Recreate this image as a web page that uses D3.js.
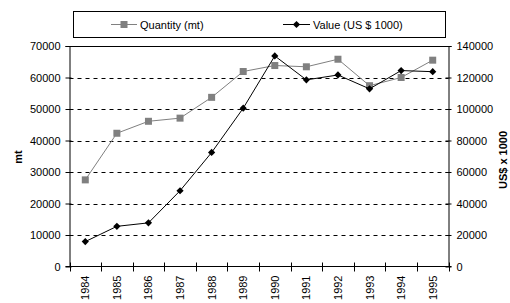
<!DOCTYPE html>
<html>
  <head>
    <meta charset="utf-8">
    <style>
      body { margin: 0; background: #fff; }
      text { font-family: "Liberation Sans", Arial, sans-serif; font-size: 11px; fill: #000; }
      .grid line { stroke: #000; stroke-dasharray: 4,4; }
    </style>
  </head>
  <body>
    <svg width="510" height="303"></svg>
    <script src="https://d3js.org/d3.v7.min.js"></script>
    <script>
      var years = ["1984", "1985", "1986", "1987", "1988", "1989", "1990", "1991", "1992", "1993", "1994", "1995"];
      var quantity = [27500, 42300, 46100, 47100, 53700, 61900, 63800, 63400, 65800, 57400, 60000, 65500];
      var value = [15800, 25500, 27700, 48100, 72400, 100500, 133700, 118500, 121600, 112800, 124400, 123700];
      var leftTicks = [0, 10000, 20000, 30000, 40000, 50000, 60000, 70000];
      var rightTicks = [0, 20000, 40000, 60000, 80000, 100000, 120000, 140000];

      var svg = d3.select("svg");
      var pLeft = 69.5, pRight = 448.5, pTop = 46, pBottom = 266.5;

      var x = d3.scaleBand().domain(years).range([pLeft, pRight]);
      var yL = d3.scaleLinear().domain([0, 70000]).range([pBottom, pTop]);
      var yR = d3.scaleLinear().domain([0, 140000]).range([pBottom, pTop]);

      // dashed gridlines
      svg.append("g").attr("class", "grid")
        .selectAll("line")
        .data(leftTicks.filter(function(d) { return d > 0 && d < 70000; }))
        .enter().append("line")
        .attr("x1", pLeft).attr("x2", pRight)
        .attr("y1", function(d) { return Math.round(yL(d)) + 0.5; })
        .attr("y2", function(d) { return Math.round(yL(d)) + 0.5; });

      // top border line
      svg.append("line")
        .attr("x1", pLeft - 4).attr("x2", pRight + 3)
        .attr("y1", yL(70000) + 0.5).attr("y2", yL(70000) + 0.5)
        .attr("stroke", "#000");

      // left axis
      var gl = svg.append("g").attr("transform", "translate(" + pLeft + ",0)")
        .call(d3.axisLeft(yL).tickValues(leftTicks).tickFormat(d3.format("d")).tickSize(4).tickPadding(5).tickSizeOuter(0));
      gl.selectAll(".tick line").attr("x2", -4).attr("x1", 2);

      // right axis
      var gr = svg.append("g").attr("transform", "translate(" + pRight + ",0)")
        .call(d3.axisRight(yR).tickValues(rightTicks).tickFormat(d3.format("d")).tickSize(3).tickPadding(5).tickSizeOuter(0));
      gr.selectAll(".tick line").attr("x1", -3).attr("x2", 3);

      // bottom axis with ticks at band boundaries
      var gb = svg.append("g").attr("transform", "translate(0," + pBottom + ")");
      gb.append("line").attr("x1", pLeft - 4).attr("x2", pRight + 3).attr("stroke", "#000");
      var bounds = years.map(function(d) { return x(d); }).concat([pRight]);
      gb.selectAll(".bt").data(bounds).enter().append("line")
        .attr("x1", function(d) { return Math.round(d) + 0.5; })
        .attr("x2", function(d) { return Math.round(d) + 0.5; })
        .attr("y1", -4).attr("y2", 5).attr("stroke", "#000");
      gb.selectAll(".yl").data(years).enter().append("text")
        .attr("transform", function(d) { return "translate(" + (x(d) + x.bandwidth() / 2 + 4) + ",9) rotate(-90)"; })
        .attr("text-anchor", "end")
        .text(function(d) { return d; });

      svg.selectAll(".domain").attr("stroke", "#000");
      svg.selectAll(".tick text").style("font-size", "11px").attr("font-family", null);
      svg.selectAll("g").attr("font-family", null).attr("font-size", null);

      // axis titles
      svg.append("text")
        .attr("transform", "translate(22,157) rotate(-90)")
        .attr("text-anchor", "middle")
        .style("font-weight", "bold")
        .text("mt");
      svg.append("text")
        .attr("transform", "translate(507,160) rotate(-90)")
        .attr("text-anchor", "middle")
        .style("font-weight", "bold")
        .text("US$ x 1000");

      var cx = function(i) { return x(years[i]) + x.bandwidth() / 2; };

      // quantity series
      svg.append("path")
        .datum(quantity)
        .attr("fill", "none")
        .attr("stroke", "#808080")
        .attr("d", d3.line().x(function(d, i) { return cx(i); }).y(function(d) { return yL(d); }));
      svg.selectAll(".sq").data(quantity).enter().append("rect")
        .attr("x", function(d, i) { return cx(i) - 3.5; })
        .attr("y", function(d) { return yL(d) - 3.5; })
        .attr("width", 7).attr("height", 7)
        .attr("fill", "#808080");

      // value series
      svg.append("path")
        .datum(value)
        .attr("fill", "none")
        .attr("stroke", "#000")
        .attr("d", d3.line().x(function(d, i) { return cx(i); }).y(function(d) { return yR(d); }));
      var diamond = d3.symbol().type(d3.symbolSquare).size(26);
      svg.selectAll(".dm").data(value).enter().append("path")
        .attr("d", diamond)
        .attr("transform", function(d, i) { return "translate(" + cx(i) + "," + yR(d) + ") rotate(45)"; })
        .attr("fill", "#000");

      // legend
      var lg = svg.append("g");
      lg.append("rect").attr("x", 73.5).attr("y", 11.5).attr("width", 372).attr("height", 26)
        .attr("fill", "#fff").attr("stroke", "#000");
      lg.append("line").attr("x1", 111).attr("x2", 137).attr("y1", 24.5).attr("y2", 24.5).attr("stroke", "#808080");
      lg.append("rect").attr("x", 120.5).attr("y", 21).attr("width", 7).attr("height", 7).attr("fill", "#808080");
      lg.append("text").attr("x", 140).attr("y", 28.5).text("Quantity (mt)");
      lg.append("line").attr("x1", 283).attr("x2", 310).attr("y1", 24.5).attr("y2", 24.5).attr("stroke", "#000");
      lg.append("path").attr("d", diamond).attr("transform", "translate(296.5,24.5) rotate(45)").attr("fill", "#000");
      lg.append("text").attr("x", 313).attr("y", 28.5).text("Value (US $ 1000)");
    </script>
  </body>
</html>
